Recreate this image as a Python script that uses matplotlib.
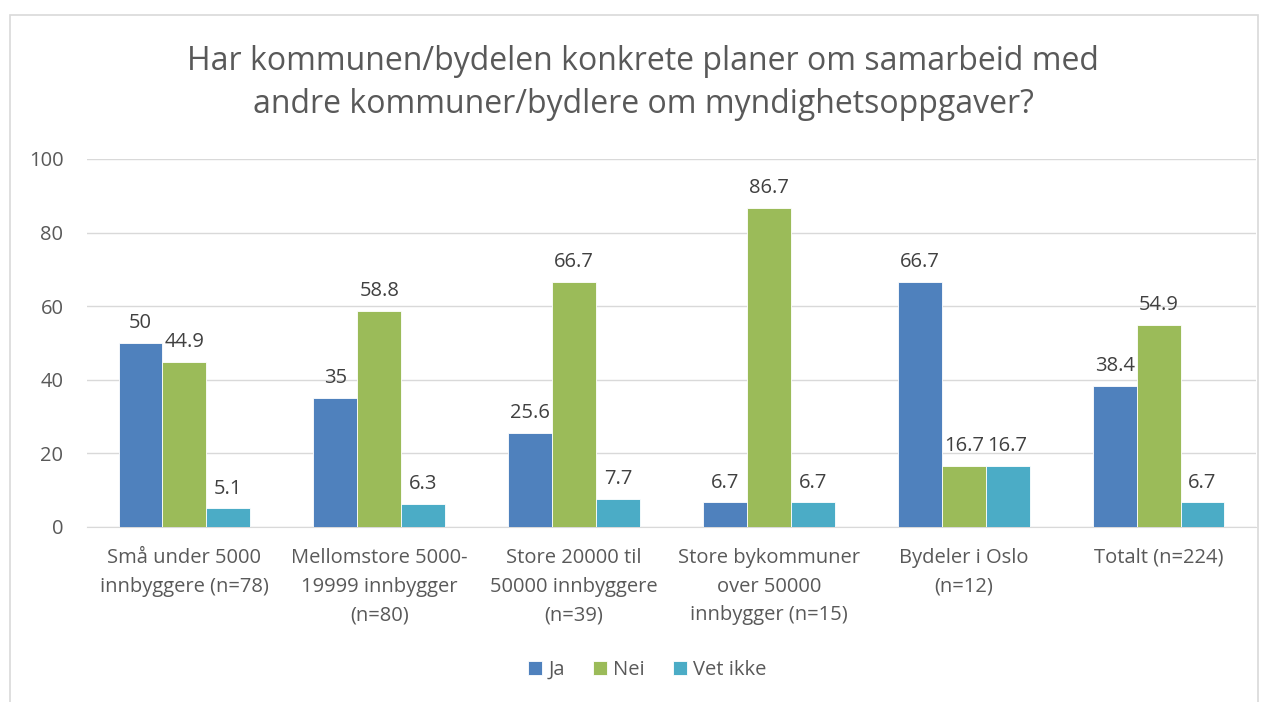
import matplotlib
matplotlib.use("Agg")
import matplotlib.pyplot as plt
import numpy as np
from matplotlib.patches import Rectangle

categories = ["Små under 5000\ninnbyggere (n=78)",
              "Mellomstore 5000-\n19999 innbygger\n(n=80)",
              "Store 20000 til\n50000 innbyggere\n(n=39)",
              "Store bykommuner\nover 50000\ninnbygger (n=15)",
              "Bydeler i Oslo\n(n=12)",
              "Totalt (n=224)"]
series_names = ["Ja", "Nei", "Vet ikke"]
ja = [50, 35, 25.6, 6.7, 66.7, 38.4]
nei = [44.9, 58.8, 66.7, 86.7, 16.7, 54.9]
vet_ikke = [5.1, 6.3, 7.7, 6.7, 16.7, 6.7]
labels_ja = ["50", "35", "25.6", "6.7", "66.7", "38.4"]
labels_nei = ["44.9", "58.8", "66.7", "86.7", "16.7", "54.9"]
labels_vet = ["5.1", "6.3", "7.7", "6.7", "16.7", "6.7"]
colors = ["#4F81BD", "#9BBB59", "#4BACC6"]

plt.rcParams['font.family'] = ['Open Sans', 'DejaVu Sans']
txt = "#595959"
fs = 14.5

fig = plt.figure(figsize=(12.74, 7.02), dpi=100)
fig.patches.append(Rectangle((10/1274, -0.05), (1258-10)/1274, 1.05 - 15/702,
                             transform=fig.transFigure, fill=False,
                             edgecolor="#D9D9D9", linewidth=1.2))

ax = fig.add_axes([87/1274, 1 - 527/702, (1256-87)/1274, (527-159)/702])
x = np.arange(len(categories))
w = 0.225
for i, (vals, labs) in enumerate(zip([ja, nei, vet_ikke], [labels_ja, labels_nei, labels_vet])):
    bars = ax.bar(x + (i - 1) * w, vals, w, color=colors[i], edgecolor="white",
                  linewidth=0.6, label=series_names[i], zorder=3)
    for b, l in zip(bars, labs):
        ax.annotate(l, (b.get_x() + b.get_width() / 2, b.get_height()),
                    xytext=(0, 7), textcoords="offset points", ha="center",
                    va="bottom", fontsize=fs, color="#404040")

ax.set_xlim(-0.5, len(categories) - 0.5)
ax.set_ylim(0, 100)
ax.set_yticks([0, 20, 40, 60, 80, 100])
ax.yaxis.grid(True, color="#D9D9D9", linewidth=1, zorder=0)
ax.set_axisbelow(True)
for s in ["top", "right", "left"]:
    ax.spines[s].set_visible(False)
ax.spines["bottom"].set_color("#D9D9D9")
ax.tick_params(axis="both", length=0, labelsize=fs, colors=txt)
ax.tick_params(axis="y", pad=17)
ax.tick_params(axis="x", pad=15)
ax.set_xticks(x)
ax.set_xticklabels(categories, linespacing=1.58)

fig.text(0.505, 1 - 83/702, "Har kommunen/bydelen konkrete planer om samarbeid med\nandre kommuner/bydlere om myndighetsoppgaver?",
         ha="center", va="center", fontsize=23, color=txt, linespacing=1.4)

leg = fig.legend(loc="center", bbox_to_anchor=(0.508, 1 - 670/702), ncol=3,
                 frameon=False, fontsize=fs, handlelength=0.7, handleheight=0.7,
                 handletextpad=0.3, columnspacing=1.4)
for t in leg.get_texts():
    t.set_color(txt)

fig.savefig("out.png", dpi=100)
